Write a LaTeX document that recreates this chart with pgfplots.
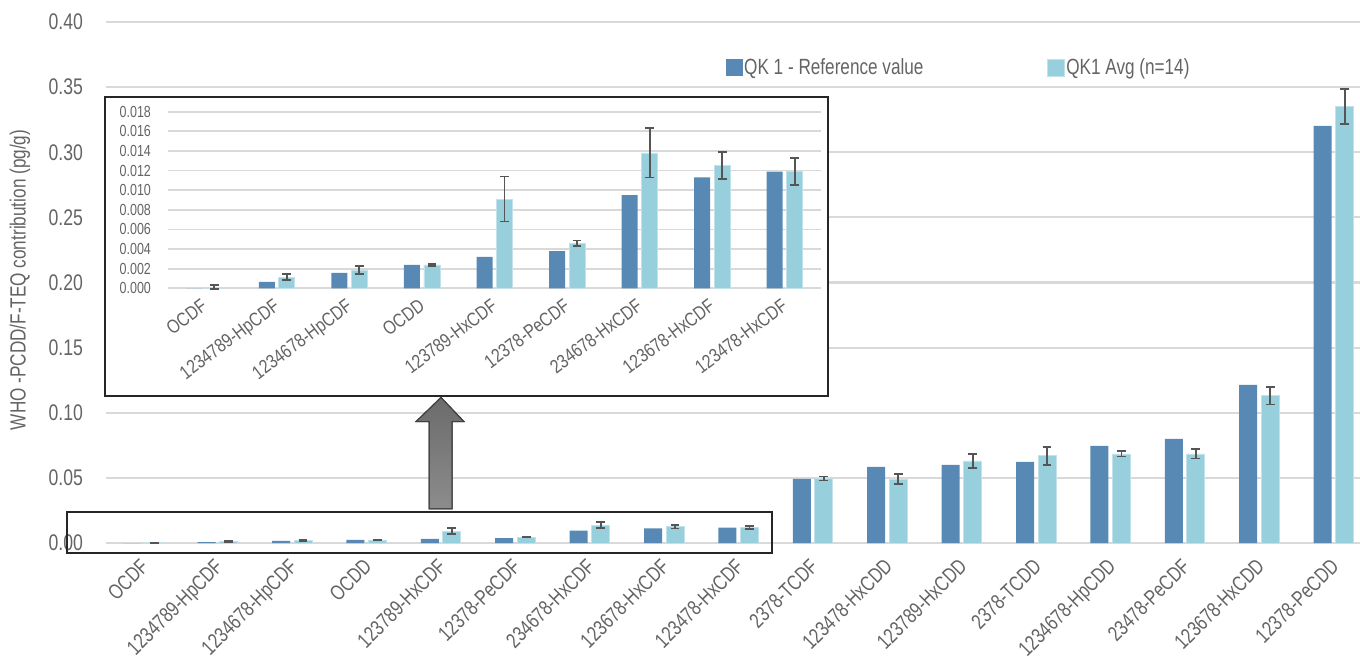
\documentclass[border=0pt]{standalone}
\usepackage{fontspec}
\setmainfont{Liberation Sans}[FakeStretch=0.78]
\newfontfamily\insetfont{Liberation Sans}[FakeStretch=0.82]
\usepackage{pgfplots}
\usepackage{pgfplotstable}
\pgfplotsset{compat=1.18}
\definecolor{darkbar}{RGB}{88,137,180}
\definecolor{lightbar}{RGB}{151,207,220}
\definecolor{tgray}{RGB}{100,100,100}
\definecolor{ggray}{RGB}{217,217,217}
\definecolor{egray}{RGB}{85,85,85}

\pgfplotstableread{
x ref avg err
0 0.0 0.0001 0.0002
1 0.00065 0.00115 0.0003
2 0.00156 0.00187 0.0004
3 0.00238 0.00238 0.0001
4 0.0032 0.0091 0.0023
5 0.0038 0.0046 0.00027
6 0.0095 0.0138 0.0025
7 0.0113 0.0125 0.0014
8 0.0119 0.0119 0.0014
9 0.0492 0.0495 0.0015
10 0.0584 0.0490 0.0037
11 0.0600 0.0630 0.0055
12 0.0622 0.0670 0.0070
13 0.0745 0.0684 0.0020
14 0.0800 0.0684 0.0035
15 0.1214 0.1130 0.0066
16 0.3203 0.3352 0.0133
}\maindata

\pgfplotstableread{
x ref avg err
0 0.0 0.0001 0.0002
1 0.00065 0.00115 0.0003
2 0.00156 0.00187 0.0004
3 0.00238 0.00238 0.0001
4 0.0032 0.0091 0.0023
5 0.0038 0.0046 0.00027
6 0.0095 0.0138 0.0025
7 0.0113 0.0125 0.0014
8 0.0119 0.0119 0.0014
}\insetdata

\pgfplotsset{
  errstyle/.style={
    error bars/.cd, y dir=both, y explicit,
    error bar style={line width=0.9pt, color=egray},
    error mark options={rotate=90, mark size=2.2pt, line width=0.9pt, color=egray}
  }
}

\begin{document}
\begin{tikzpicture}
\useasboundingbox (0,0) rectangle (680pt,329.5pt);

% main axis
\begin{axis}[
  at={(53pt,58pt)}, anchor=south west,
  scale only axis, width=632.4pt, height=260.5pt,
  xmin=-0.5, xmax=16.5, ymin=0, ymax=0.40,
  ybar=2pt, bar width=9pt,
  ytick={0,0.05,0.1,0.15,0.2,0.25,0.3,0.35,0.4},
  scaled y ticks=false,
  yticklabel style={/pgf/number format/.cd, fixed, fixed zerofill, precision=2, assume math mode=true, /tikz/.cd,
     font=\fontsize{11.3}{13}\selectfont, text=tgray, xshift=-8pt},
  xtick=data,
  xticklabels={OCDF,1234789-HpCDF,1234678-HpCDF,OCDD,123789-HxCDF,12378-PeCDF,234678-HxCDF,123678-HxCDF,123478-HxCDF,2378-TCDF,123478-HxCDD,123789-HxCDD,2378-TCDD,1234678-HpCDD,23478-PeCDF,123678-HxCDD,12378-PeCDD},
  xticklabel style={xshift=-2pt, yshift=-7pt, rotate=45, anchor=north east, inner sep=0pt, font=\fontsize{10.6}{12}\selectfont, text=tgray},
  axis line style={draw=none},
  major tick length=0pt,
  ymajorgrids, grid style={ggray, line width=1.1pt},
  clip=false,
  legend image code/.code={\fill[#1] (0pt,-4.25pt) rectangle (8.5pt,4.25pt);},
  legend style={at={(0.490,0.912)}, anchor=west, draw=none, fill=none, inner sep=0pt,
     font=\fontsize{11}{13}\selectfont, text=tgray,
     /tikz/every odd column/.append style={column sep=-1.5pt},
     /tikz/every even column/.append style={column sep=60pt}},
  legend columns=2,
]
\addplot[fill=darkbar, draw=none] table[x=x, y=ref] {\maindata};
\addlegendentry{QK 1 - Reference value}
\addplot[fill=lightbar, draw=lightbar!60!white, line width=0.4pt, errstyle] table[x=x, y=avg, y error=err] {\maindata};
\addlegendentry{QK1 Avg (n=14)}
\end{axis}

% y label
\node[rotate=90, text=tgray, font=\fontsize{11}{13}\selectfont] at (10pt,189.5pt) {WHO -PCDD/F-TEQ contribution (pg/g)};

% bottom box
\draw[line width=0.9pt, black!85] (33.5pt,53pt) rectangle (386pt,73.5pt);

% inset box
\filldraw[fill=white, draw=black!85, line width=0.9pt] (52.5pt,131.5pt) rectangle (414pt,281pt);

% inset axis
\begin{axis}[
  at={(84pt,185.35pt)}, anchor=south west,
  scale only axis, width=326.5pt, height=88.3pt,
  xmin=-0.5, xmax=8.5, ymin=0, ymax=0.018,
  ybar=2pt, bar width=8pt,
  ytick={0,0.002,0.004,0.006,0.008,0.010,0.012,0.014,0.016,0.018},
  scaled y ticks=false,
  yticklabel style={/pgf/number format/.cd, fixed, fixed zerofill, precision=3, assume math mode=true, /tikz/.cd,
     font=\fontsize{8}{10}\selectfont, text=tgray, xshift=-5pt},
  xtick=data,
  xticklabels={OCDF,1234789-HpCDF,1234678-HpCDF,OCDD,123789-HxCDF,12378-PeCDF,234678-HxCDF,123678-HxCDF,123478-HxCDF},
  xticklabel style={xshift=-2pt, yshift=-4.5pt, rotate=37, anchor=north east, inner sep=0pt, font=\insetfont\fontsize{9.6}{11}\selectfont, text=tgray},
  axis line style={draw=none},
  major tick length=0pt,
  ymajorgrids, grid style={ggray, line width=0.9pt},
  clip=false,
]
\addplot[fill=darkbar, draw=none] table[x=x, y=ref] {\insetdata};
\addplot[fill=lightbar, draw=lightbar!60!white, line width=0.4pt, errstyle] table[x=x, y=avg, y error=err] {\insetdata};
\end{axis}

% arrow
\shade[top color=black!58, bottom color=black!45, draw=black!75, line width=0.5pt]
  (220.5pt,130.8pt) -- (232pt,118.7pt) -- (226pt,118.7pt) -- (226pt,75pt) -- (214.5pt,75pt) -- (214.5pt,118.7pt) -- (208pt,118.7pt) -- cycle;
\draw[black!75, line width=0.5pt]
  (220.5pt,130.8pt) -- (232pt,118.7pt) -- (226pt,118.7pt) -- (226pt,75pt) -- (214.5pt,75pt) -- (214.5pt,118.7pt) -- (208pt,118.7pt) -- cycle;
\end{tikzpicture}
\end{document}
